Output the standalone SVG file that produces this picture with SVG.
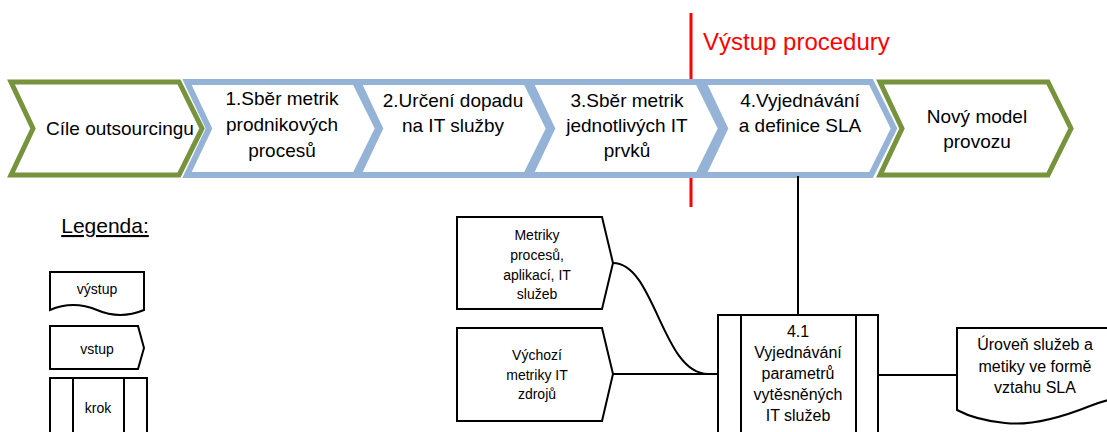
<svg xmlns="http://www.w3.org/2000/svg" width="1107" height="432" viewBox="0 0 1107 432">
  <style>
    text { font-family: "Liberation Sans", Arial, sans-serif; fill: #000; text-anchor: middle; }
    .phase { fill: #fff; stroke-width: 6; stroke-linejoin: miter; }
    .blue { stroke: #95B3D7; }
    .green { stroke: #77933C; stroke-width: 5; }
    .big { font-size: 19px; }
    .mid { font-size: 16px; }
    .small { font-size: 14px; }
    .box { fill: #fff; stroke: #000; stroke-width: 2; }
    .wire { fill: none; stroke: #000; stroke-width: 2; }
  </style>
  <defs>
    <!-- chevron outline, origin at left top corner -->
    <path id="chev" d="M0,0 H168 L191,46.5 L168,93 H0 L22,46.5 Z"/>
  </defs>

  <rect width="1107" height="432" fill="#fff"/>

  <!-- procedure output marker (runs behind the phase chevrons) -->
  <g id="output-marker">
    <line x1="691" y1="13" x2="691" y2="207" stroke="#FF0000" stroke-width="3"/>
    <text x="703" y="50" style="text-anchor:start;fill:#FF0000;font-size:24px">Výstup procedury</text>
  </g>

  <!-- process phases -->
  <g id="phase-goals">
    <use href="#chev" x="11" y="82" class="phase green"/>
    <text class="big" x="120" y="135">Cíle outsourcingu</text>
  </g>
  <g id="phase-1">
    <use href="#chev" x="187" y="82" class="phase blue"/>
    <text class="big" x="282" y="105">1.Sběr metrik</text>
    <text class="big" x="282" y="131">prodnikových</text>
    <text class="big" x="282" y="157">procesů</text>
  </g>
  <g id="phase-2">
    <use href="#chev" x="358" y="82" class="phase blue"/>
    <text class="big" x="453" y="107">2.Určení dopadu</text>
    <text class="big" x="453" y="132">na IT služby</text>
  </g>
  <g id="phase-3">
    <use href="#chev" x="530" y="82" class="phase blue"/>
    <text class="big" x="627" y="107">3.Sběr metrik</text>
    <text class="big" x="627" y="132">jednotlivých IT</text>
    <text class="big" x="627" y="157">prvků</text>
  </g>
  <g id="phase-4">
    <use href="#chev" x="703" y="82" class="phase blue"/>
    <text class="big" x="800" y="107">4.Vyjednávání</text>
    <text class="big" x="800" y="132">a definice SLA</text>
  </g>
  <g id="phase-new">
    <use href="#chev" x="880" y="82" class="phase green"/>
    <text class="big" x="977" y="123">Nový model</text>
    <text class="big" x="977" y="148">provozu</text>
  </g>

  <!-- connectors -->
  <g id="connectors">
    <line class="wire" x1="798" y1="176" x2="798" y2="315"/>
    <path class="wire" d="M613,263 C655,263 662,374 708,374 H718"/>
    <line class="wire" x1="613" y1="374" x2="718" y2="374"/>
    <line class="wire" x1="878" y1="375" x2="957" y2="375"/>
  </g>

  <!-- inputs -->
  <g id="input-metrics">
    <path class="box" d="M457,217 H602 L613,263 L602,309 H457 Z"/>
    <text class="small" x="537" y="240">Metriky</text>
    <text class="small" x="537" y="260">procesů,</text>
    <text class="small" x="537" y="280">aplikací, IT</text>
    <text class="small" x="537" y="299">služeb</text>
  </g>
  <g id="input-baseline">
    <path class="box" d="M457,328 H602 L613,374 L602,421 H457 Z"/>
    <text class="small" x="537" y="360">Výchozí</text>
    <text class="small" x="537" y="380">metriky IT</text>
    <text class="small" x="537" y="399">zdrojů</text>
  </g>

  <!-- step 4.1 -->
  <g id="step-4-1">
    <rect class="box" x="718" y="315" width="160" height="130"/>
    <line class="wire" x1="741" y1="315" x2="741" y2="445"/>
    <line class="wire" x1="856" y1="315" x2="856" y2="445"/>
    <text class="mid" x="798" y="337">4.1</text>
    <text class="mid" x="798" y="358">Vyjednávání</text>
    <text class="mid" x="798" y="379">parametrů</text>
    <text class="mid" x="798" y="400">vytěsněných</text>
    <text class="mid" x="798" y="421">IT služeb</text>
  </g>

  <!-- output document -->
  <g id="output-sla">
    <path class="box" d="M957,328 H1160 V398 C1130,394 1110,398 1090,406 C1060,418 1030,426 1005,423 C985,421 970,417 957,410 Z"/>
    <text class="mid" x="1035" y="350">Úroveň služeb a</text>
    <text class="mid" x="1035" y="372">metiky ve formě</text>
    <text class="mid" x="1035" y="393">vztahu SLA</text>
  </g>

  <!-- legend -->
  <g id="legend">
    <text x="105" y="233" style="font-size:21px;text-decoration:underline">Legenda:</text>
  </g>
  <g id="legend-output">
    <path class="box" d="M50,272 H144 V310 Q120,320 97,310 Q73,300 50,310 Z"/>
    <text class="small" x="97" y="294">výstup</text>
  </g>
  <g id="legend-input">
    <path class="box" d="M50,326 H138 L144,348 L138,369 H50 Z"/>
    <text class="small" x="97" y="354">vstup</text>
  </g>
  <g id="legend-step">
    <rect class="box" x="50" y="378" width="97" height="70"/>
    <line class="wire" x1="73" y1="378" x2="73" y2="448"/>
    <line class="wire" x1="124" y1="378" x2="124" y2="448"/>
    <text class="small" x="98" y="413">krok</text>
  </g>
</svg>
